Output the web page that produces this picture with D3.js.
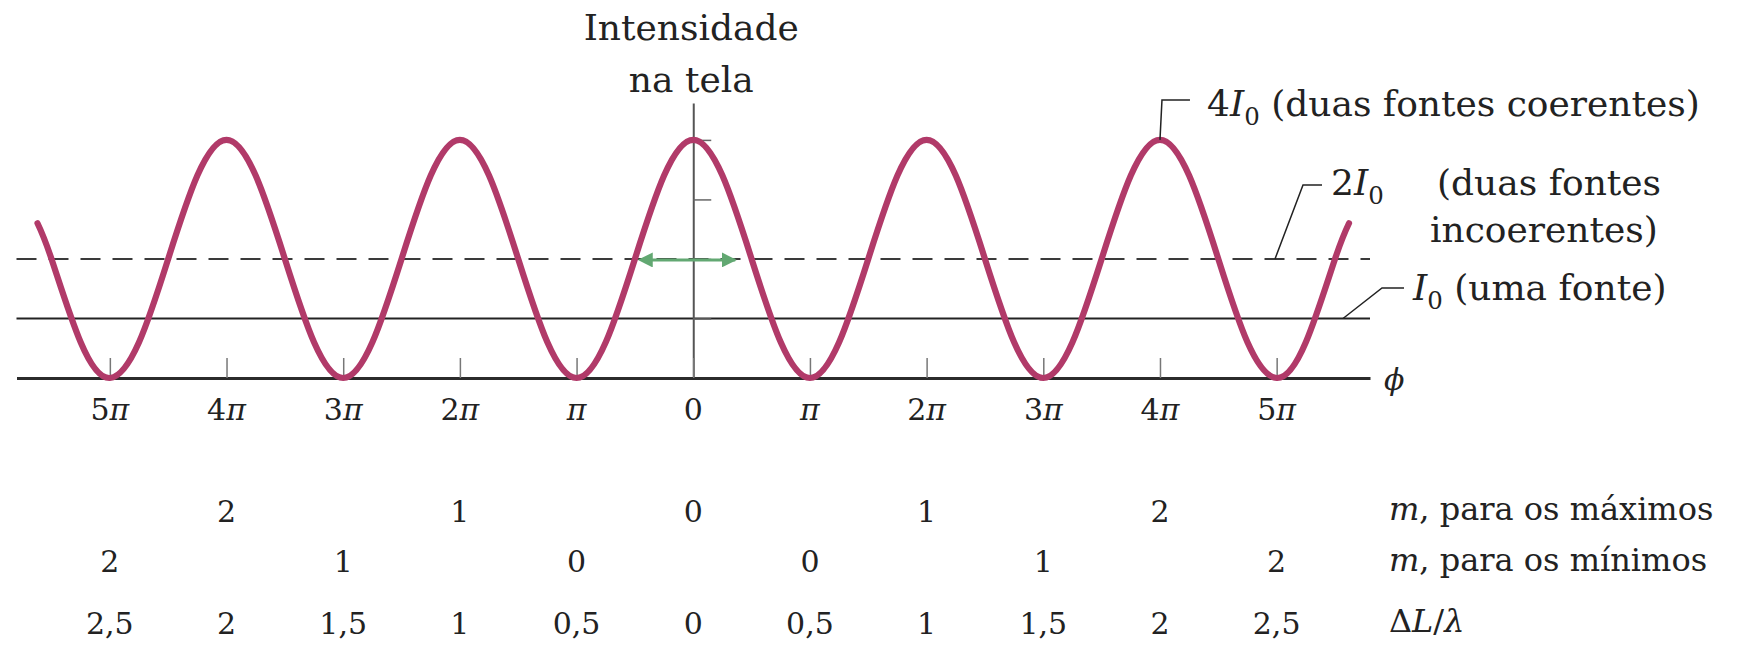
<!DOCTYPE html>
<html>
<head>
<meta charset="utf-8">
<script src="https://cdn.jsdelivr.net/npm/d3@7"></script>
<style>
  html, body { margin: 0; padding: 0; background: #fff; }
  svg { display: block; font-family: "DejaVu Serif", serif; }
</style>
</head>
<body>
<svg id="chart" width="1761" height="646"></svg>
<script>
// Phase difference φ, in multiples of π
const phase = [-5.62,
  -5.5, -5.25, -5, -4.75, -4.5, -4.25, -4, -3.75,
  -3.5, -3.25, -3, -2.75, -2.5, -2.25, -2, -1.75,
  -1.5, -1.25, -1, -0.75, -0.5, -0.25, 0, 0.25,
  0.5, 0.75, 1, 1.25, 1.5, 1.75, 2, 2.25,
  2.5, 2.75, 3, 3.25, 3.5, 3.75, 4, 4.25,
  4.5, 4.75, 5, 5.25, 5.5,
  5.62];
// Intensity on the screen, in units of I0
const intensity = [2.6,
  2, 0.6, 0, 0.6, 2, 3.4, 4, 3.4,
  2, 0.6, 0, 0.6, 2, 3.4, 4, 3.4,
  2, 0.6, 0, 0.6, 2, 3.4, 4, 3.4,
  2, 0.6, 0, 0.6, 2, 3.4, 4, 3.4,
  2, 0.6, 0, 0.6, 2, 3.4, 4, 3.4,
  2, 0.6, 0, 0.6, 2,
  2.6];

// Reference levels (units of I0)
const singleSource = 1;     // I0, uma fonte
const incoherentPair = 2;   // 2I0, duas fontes incoerentes
const coherentPeak = 4;     // 4I0, duas fontes coerentes

// Phase axis ticks and labels
const tickPos = [-5, -4, -3, -2, -1, 0, 1, 2, 3, 4, 5];
const tickNum = ["5", "4", "3", "2", "", "0", "", "2", "3", "4", "5"];
const tickPi  = [true, true, true, true, true, false, true, true, true, true, true];

// Order m of maxima and minima, and path difference ΔL/λ
const maxPos = [-4, -2, 0, 2, 4];
const maxM   = ["2", "1", "0", "1", "2"];
const minPos = [-5, -3, -1, 1, 3, 5];
const minM   = ["2", "1", "0", "0", "1", "2"];
const pathPos = [-5, -4, -3, -2, -1, 0, 1, 2, 3, 4, 5];
const pathDL  = ["2,5", "2", "1,5", "1", "0,5", "0", "0,5", "1", "1,5", "2", "2,5"];

const svg = d3.select("#chart");
const ink = "#222";
const curveColor = "#b13a69";
const arrowColor = "#62a872";

const x = d3.scaleLinear().domain([-5.8, 5.8]).range([16.5, 1370]);
const y = d3.scaleLinear().domain([0, 4.62]).range([378, 103]);

// horizontal reference levels
svg.append("line")
  .attr("x1", x(-5.8)).attr("x2", x(5.8))
  .attr("y1", y(singleSource)).attr("y2", y(singleSource))
  .attr("stroke", ink).attr("stroke-width", 2);
svg.append("line")
  .attr("x1", x(-5.8)).attr("x2", x(5.8))
  .attr("y1", y(incoherentPair)).attr("y2", y(incoherentPair))
  .attr("stroke", "#3a3a3a").attr("stroke-width", 2)
  .attr("stroke-dasharray", "20,12");

// intensity axis (vertical, at φ = 0)
svg.append("g")
  .attr("transform", `translate(${x(0)},0)`)
  .call(d3.axisRight(y).tickValues([1, 2, 3, 4]).tickSize(18).tickSizeOuter(0).tickFormat(""))
  .call(g => g.select(".domain").attr("stroke", "#555").attr("stroke-width", 2))
  .call(g => g.selectAll(".tick line").attr("stroke", "#666").attr("stroke-width", 1.5));

// phase axis
svg.append("g")
  .attr("transform", `translate(0,${y(0)})`)
  .call(d3.axisBottom(x).tickValues(tickPos).tickSizeInner(-20).tickSizeOuter(0).tickFormat(""))
  .call(g => g.select(".domain").attr("stroke", "#2b2b2b").attr("stroke-width", 3))
  .call(g => g.selectAll(".tick line").attr("stroke", "#777").attr("stroke-width", 1.5));

// double arrow at the 2I0 level
const defs = svg.append("defs");
["start", "end"].forEach(k => {
  defs.append("marker")
    .attr("id", "arr-" + k)
    .attr("viewBox", "0 0 10 10")
    .attr("refX", k === "end" ? 9 : 1).attr("refY", 5)
    .attr("markerWidth", 5).attr("markerHeight", 5)
    .attr("markerUnits", "strokeWidth")
    .attr("orient", "auto-start-reverse")
    .append("path").attr("d", "M0,0 L10,5 L0,10 Z").attr("fill", arrowColor);
});
svg.append("line")
  .attr("x1", x(-0.36)).attr("x2", x(0.36))
  .attr("y1", y(incoherentPair) + 1).attr("y2", y(incoherentPair) + 1)
  .attr("stroke", arrowColor).attr("stroke-width", 3)
  .attr("marker-start", "url(#arr-start)")
  .attr("marker-end", "url(#arr-end)");

// interference pattern
const pts = phase.map((p, i) => [p, intensity[i]]);
svg.append("path")
  .datum(pts)
  .attr("fill", "none")
  .attr("stroke", curveColor)
  .attr("stroke-width", 6.2)
  .attr("stroke-linecap", "round")
  .attr("d", d3.line().x(d => x(d[0])).y(d => y(d[1])).curve(d3.curveNatural));

// rich text helper: segments {t, it, sub}
function rich(px, py, size, segs, anchor) {
  const t = svg.append("text")
    .attr("x", px).attr("y", py)
    .attr("font-size", size)
    .attr("fill", ink)
    .attr("text-anchor", anchor || "start");
  let shifted = 0;
  segs.forEach(s => {
    const ts = t.append("tspan").text(s.t);
    if (s.it) ts.attr("font-style", "italic");
    if (s.sub) {
      ts.attr("font-size", size * 0.68).attr("dy", size * 0.24);
      shifted = size * 0.24;
    } else if (shifted) {
      ts.attr("dy", -shifted);
      shifted = 0;
    }
  });
  return t;
}

// axis titles
rich(x(0) - 2, 40, 36, [{t: "Intensidade"}], "middle");
rich(x(0) - 2, 92, 36, [{t: "na tela"}], "middle");
rich(1384, 390, 30, [{t: "ϕ", it: true}]);

// phase tick labels
tickPos.forEach((p, i) => {
  const segs = [];
  if (tickNum[i]) segs.push({t: tickNum[i]});
  if (tickPi[i]) segs.push({t: "π", it: true});
  rich(x(p), 420, 30, segs, "middle");
});

// leader lines for the level annotations
const leader = d3.line();
const leaders = [
  [[x(4), y(coherentPeak)], [x(4) + 2, 100], [x(4) + 30, 100]],
  [[1275, y(incoherentPair)], [1303, 185], [1322, 185]],
  [[1343, y(singleSource)], [1382, 288], [1404, 288]]
];
leaders.forEach(l => svg.append("path")
  .attr("d", leader(l)).attr("fill", "none")
  .attr("stroke", ink).attr("stroke-width", 1.5));

rich(1207, 116, 36, [{t: "4"}, {t: "I", it: true}, {t: "0", sub: true}, {t: " (duas fontes coerentes)"}]);
rich(1331, 195, 36, [{t: "2"}, {t: "I", it: true}, {t: "0", sub: true}]);
rich(1437, 195, 36, [{t: "(duas fontes"}]);
rich(1430, 242, 36, [{t: "incoerentes)"}]);
rich(1413, 300, 36, [{t: "I", it: true}, {t: "0", sub: true}, {t: " (uma fonte)"}]);

// order rows
maxPos.forEach((p, i) => rich(x(p), 522, 30, [{t: maxM[i]}], "middle"));
minPos.forEach((p, i) => rich(x(p), 572, 30, [{t: minM[i]}], "middle"));
pathPos.forEach((p, i) => rich(x(p), 634, 30, [{t: pathDL[i]}], "middle"));

rich(1389, 520, 32, [{t: "m", it: true}, {t: ", para os máximos"}]);
rich(1389, 571, 32, [{t: "m", it: true}, {t: ", para os mínimos"}]);
rich(1389, 632, 32, [{t: "Δ"}, {t: "L", it: true}, {t: "/"}, {t: "λ", it: true}]);
</script>
</body>
</html>
